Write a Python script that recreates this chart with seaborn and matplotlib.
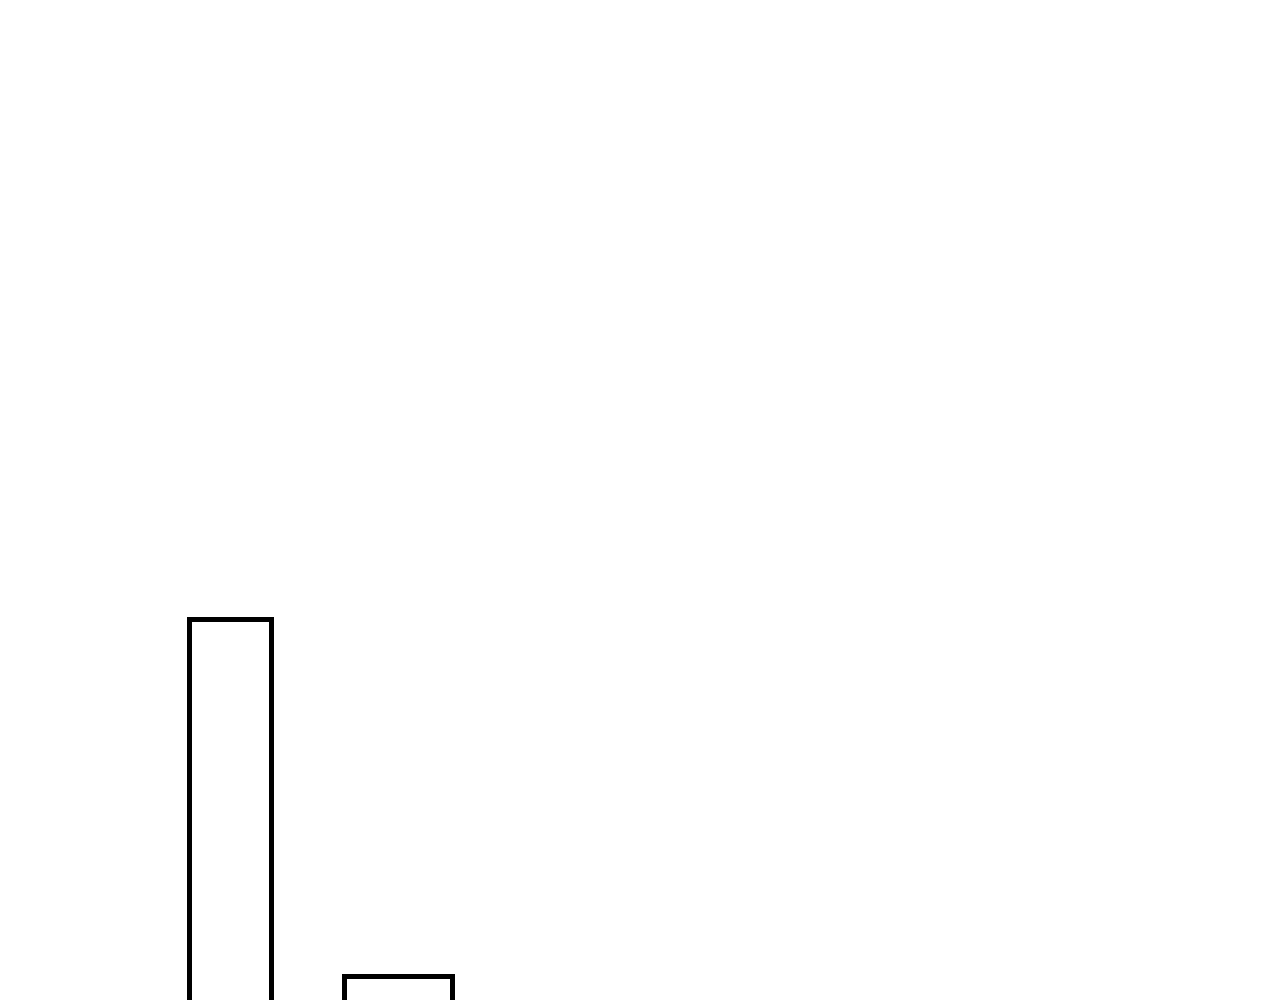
import matplotlib
matplotlib.use("Agg")
import matplotlib.pyplot as plt
import seaborn as sns
import pandas as pd

# data (bars are cropped at the bottom of the view)
positions = [2.30, 3.975]      # bar centres on the x scale
widths = [0.81, 1.08]          # bar widths on the x scale
values = [39.1, 3.4]           # bar heights

sns.set_theme(style="white")
plt.rcParams['font.family'] = ['DejaVu Sans']

fig = plt.figure(figsize=(12.8, 10), dpi=100)
fig.patch.set_facecolor("white")
ax = fig.add_axes([0, 0, 1, 1])

for p, w, v in zip(positions, widths, values):
    df = pd.DataFrame({"x": [p], "y": [v]})
    sns.barplot(data=df, x="x", y="y", native_scale=True, width=w,
                color="white", edgecolor="black", linewidth=3.6,
                errorbar=None, ax=ax)

ax.set_xlim(0, 12.8)
ax.set_ylim(1, 101)
ax.set_axis_off()

fig.savefig("out.png", dpi=100, facecolor="white")
